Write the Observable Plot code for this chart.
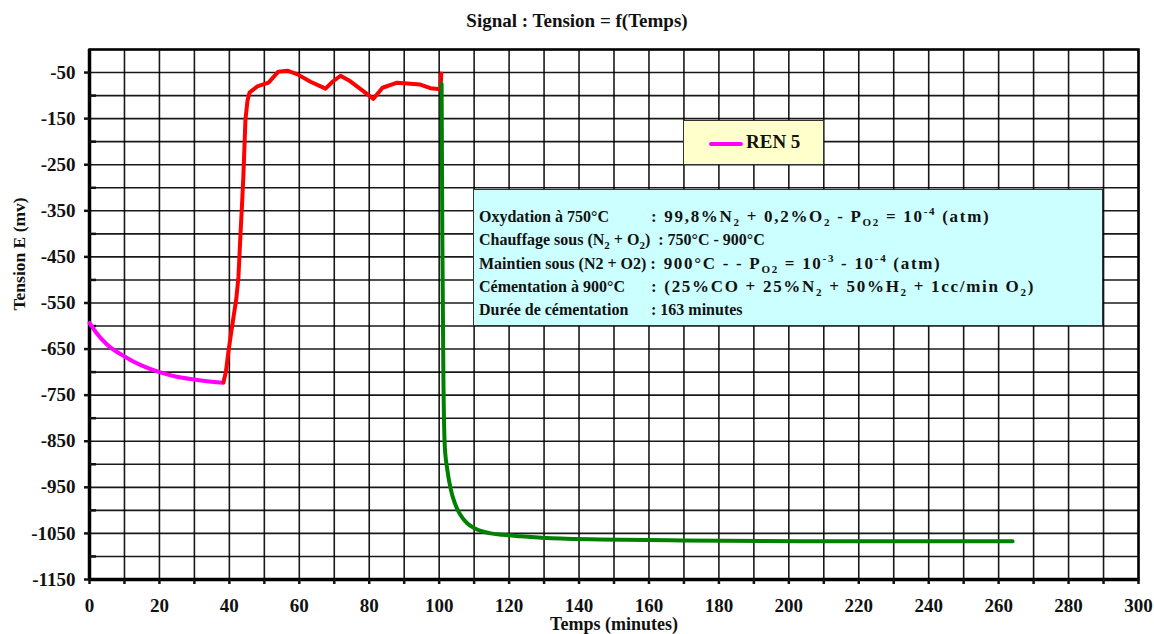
<!DOCTYPE html>
<html>
<head>
<meta charset="utf-8">
<script src="https://cdn.jsdelivr.net/npm/d3@7"></script>
<script src="https://cdn.jsdelivr.net/npm/@observablehq/plot@0.6"></script>
<style>
  body { margin: 0; background: #fff; }
  #wrap { position: relative; width: 1154px; height: 634px; overflow: hidden; font-family: "Liberation Serif", "DejaVu Serif", serif; }
  .box { position: absolute; box-sizing: border-box; font-weight: bold; color: #111; }
  #legend { left: 683px; top: 120px; width: 141px; height: 45px; background: #ffffcc; border: 1.5px solid #333; }
  #legend .sw { position: absolute; left: 25px; top: 21px; width: 34px; height: 4px; background: #ff00ff; border-radius: 2px; }
  #legend .lb { position: absolute; left: 62px; top: 10px; font-size: 19px; line-height: 22px; }
  #note { left: 473px; top: 189px; width: 630px; height: 137px; background: #ccffff; border: 1.5px solid #333; font-size: 16px; padding: 15px 0 0 5px; }
  #note .ln { height: 23.3px; line-height: 23.3px; white-space: nowrap; }
  #note .c1 { display: inline-block; width: 172px; letter-spacing: 0; }
  #note .wide { font-size: 17px; letter-spacing: 1.7px; }
  sub, sup { font-size: 11px; line-height: 0; }
</style>
</head>
<body>
<div id="wrap"></div>
<script>
// ---- data ----
const magentaT = [0, 2, 5, 10, 15, 20, 25, 30, 35, 38.3];
const magentaE = [-593, -615, -640, -666, -686, -700, -710, -716, -721, -723];

const redT = [38.3, 39, 39.8, 40.5, 41.2, 42, 42.6, 43.2, 43.6, 44, 44.6, 45.2, 45.8, 48, 51.2, 54, 56.6, 59.5, 63.2, 67.5, 69.5, 71.8, 74.6, 78.4, 81.2, 83.8, 88, 94.6, 97.5, 100.4, 100.6];
const redE = [-722, -700, -652, -615, -580, -540, -493, -398, -340, -276, -152, -110, -93, -80, -72, -48, -46, -54, -70, -85, -70, -57, -69, -91, -107, -83, -72, -76, -84, -86, -52];

const greenT = [100.7, 100.9, 101.2, 101.6, 102.3, 103.2, 104.5, 106.1, 108, 110.4, 114.7, 118, 123.2, 134.7, 146, 166, 203, 240, 264];
const greenE = [-75, -400, -700, -860, -910, -950, -985, -1010, -1028, -1040, -1050, -1053, -1056, -1061, -1063, -1065, -1067, -1067, -1067];

const xTicks = d3.range(0, 301, 10);
const yMajor = d3.range(-1150, -49, 100);
const yMinor = d3.range(-1100, -99, 100);
const yGrid = d3.range(-1150, 1, 50);

const titleText = "Signal : Tension = f(Temps)";
const xLabel = "Temps (minutes)";
const yLabel = "Tension E (mv)";

const toRows = (T, E) => T.map((t, i) => ({t, e: E[i]}));
const magenta = toRows(magentaT, magentaE);
const red = toRows(redT, redE);
const green = toRows(greenT, greenE);

const font = "Liberation Serif, DejaVu Serif, serif";

const chart = Plot.plot({
  width: 1154,
  height: 634,
  marginLeft: 89,
  marginRight: 16,
  marginTop: 49,
  marginBottom: 55,
  style: {fontFamily: font, background: "white", color: "#111"},
  x: {domain: [0, 300]},
  y: {domain: [-1150, 0]},
  marks: [
    Plot.gridX(xTicks, {stroke: "#000", strokeOpacity: 0.9, strokeWidth: 1.6}),
    Plot.gridY(yGrid, {stroke: "#000", strokeOpacity: 0.9, strokeWidth: 1.6}),
    Plot.frame({stroke: "#000", strokeWidth: 2.5}),
    Plot.ruleX([0], {stroke: "#000", strokeWidth: 3.5}),
    Plot.ruleY([-1150], {stroke: "#000", strokeWidth: 3.5}),
    Plot.axisX(xTicks, {tickSize: 5, tickPadding: 14, strokeWidth: 2.5, fontSize: 19, fontWeight: "bold",
      tickFormat: d => d % 20 === 0 ? String(d) : "", label: null}),
    Plot.axisY(yMajor, {tickSize: 5, tickPadding: 9, strokeWidth: 2.5, fontSize: 19, fontWeight: "bold",
      tickFormat: d => String(d), label: null}),
    Plot.axisY(yMinor, {tickSize: -7, text: null, strokeWidth: 2.5, label: null}),
    Plot.line(magenta, {x: "t", y: "e", stroke: "#ff00ff", strokeWidth: 4, curve: "monotone-x"}),
    Plot.line(red, {x: "t", y: "e", stroke: "#ff0000", strokeWidth: 4}),
    Plot.line(green, {x: "t", y: "e", stroke: "#008000", strokeWidth: 4, curve: "monotone-x"}),
    Plot.text([titleText], {frameAnchor: "top", dx: -37, dy: -29, lineAnchor: "middle", fontSize: 19, fontWeight: "bold", fill: "#111"}),
    Plot.text([xLabel], {frameAnchor: "bottom", dy: 45, lineAnchor: "middle", fontSize: 18, fontWeight: "bold", fill: "#111"}),
    Plot.text([yLabel], {frameAnchor: "left", dx: -70, dy: -4, rotate: -90, lineAnchor: "middle", fontSize: 17.5, fontWeight: "bold", fill: "#111"})
  ]
});

const wrap = document.getElementById("wrap");
wrap.appendChild(chart);

const legend = document.createElement("div");
legend.className = "box";
legend.id = "legend";
legend.innerHTML = '<div class="sw"></div><div class="lb">REN 5</div>';
wrap.appendChild(legend);

const note = document.createElement("div");
note.className = "box";
note.id = "note";
note.innerHTML = [
  '<div class="ln"><span class="c1">Oxydation à 750°C</span><span class="wide">: 99,8%N<sub>2</sub> + 0,2%O<sub>2</sub> - P<sub>O2</sub> = 10<sup>-4</sup> (atm)</span></div>',
  '<div class="ln">Chauffage sous (N<sub>2</sub> + O<sub>2</sub>) &nbsp;: 750°C - 900°C</div>',
  '<div class="ln">Maintien sous (N2 + O2) <span class="wide">: 900°C - - P<sub>O2</sub> = 10<sup>-3</sup> - 10<sup>-4</sup> (atm)</span></div>',
  '<div class="ln"><span class="c1">Cémentation à 900°C</span><span class="wide">: (25%CO + 25%N<sub>2</sub> + 50%H<sub>2</sub> + 1cc/min O<sub>2</sub>)</span></div>',
  '<div class="ln"><span class="c1">Durée de cémentation</span>: 163 minutes</div>'
].join("");
wrap.appendChild(note);
</script>
</body>
</html>
